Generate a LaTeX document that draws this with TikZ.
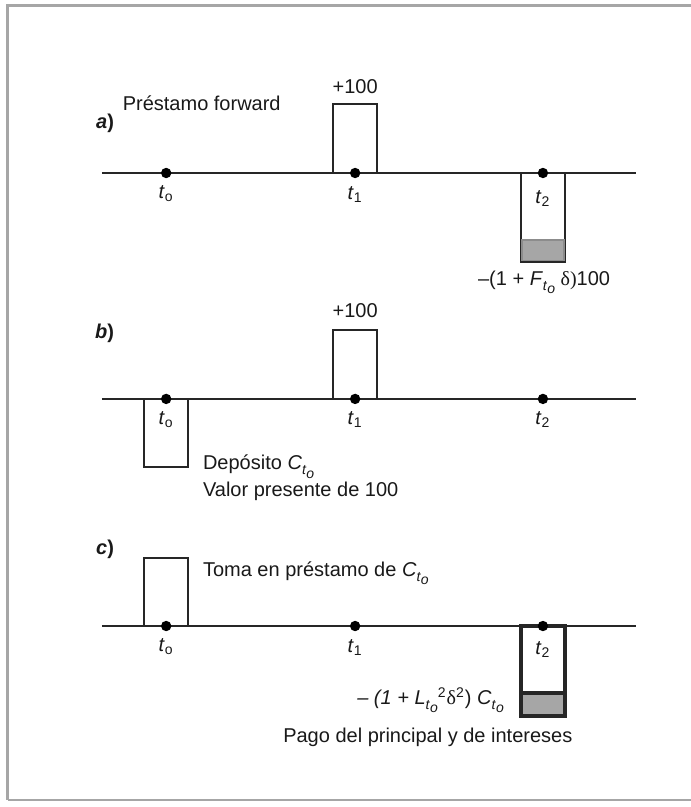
\documentclass[tikz,border=0pt]{standalone}
\usepackage{fontspec}
\setmainfont{Liberation Sans}
\newfontfamily\greekup{Liberation Serif}
\newcommand{\tlab}[1]{\textit{t}\textsubscript{#1}}
\newcommand{\tosub}{\raisebox{-0.45ex}{\scriptsize\textit{t}\raisebox{-0.45ex}{\scriptsize\textit{o}}}}
\newcommand{\cto}{\textit{C}\tosub}
\begin{document}
\begin{tikzpicture}[line width=1pt,color=black!85,
  every node/.style={inner sep=0pt,text=black!90},
  dot/.style={circle,fill=black,minimum size=5.2pt},
  paybar/.style={fill=black!35,draw=black!45}]
\useasboundingbox (0,0) rectangle (12.14,14.18);
\draw[black!35,line width=1.5pt] (0.14,0.12)--(0.14,14.09)--(12.14,14.09);
\draw[black!35,line width=0.75pt] (0.14,0.12)--(12.14,0.12);

% a) forward loan
\begin{scope}[yshift=11.14cm]
\draw (1.79,0)--(11.18,0);
\draw (5.85,0) rectangle (6.63,1.21);
\draw (9.15,0) rectangle (9.93,-1.56);
\draw[paybar] (9.17,-1.18) rectangle (9.91,-1.54);
\draw (9.15,-1.56)--(9.93,-1.56);
\node[dot] (a0) at (2.92,0) {};
\node[dot] (a1) at (6.24,0) {};
\node[dot] (a2) at (9.54,0) {};
\node[anchor=east] (taga) at (2.02,0.88) {\textbf{\textit{a})}};
\node[anchor=west] (fwd) at (2.14,1.23) {Préstamo forward};
\node (plusa) at (6.24,1.51) {+100};
\node (la0) at (2.92,-0.37) {\tlab{o}};
\node (la1) at (6.24,-0.37) {\tlab{1}};
\node (la2) at (9.54,-0.44) {\tlab{2}};
\node (paya) at (9.56,-1.92) {–(1 + \textit{F}\tosub\ {\greekup δ)}100};
\end{scope}

% b) deposit
\begin{scope}[yshift=7.17cm]
\draw (1.79,0)--(11.18,0);
\draw (5.85,0) rectangle (6.63,1.21);
\draw (2.53,0) rectangle (3.31,-1.19);
\node[dot] (b0) at (2.92,0) {};
\node[dot] (b1) at (6.24,0) {};
\node[dot] (b2) at (9.54,0) {};
\node[anchor=east] (tagb) at (2.02,1.16) {\textbf{\textit{b})}};
\node (plusb) at (6.24,1.55) {+100};
\node (lb0) at (2.92,-0.37) {\tlab{o}};
\node (lb1) at (6.24,-0.37) {\tlab{1}};
\node (lb2) at (9.54,-0.37) {\tlab{2}};
\node[anchor=west] (dep) at (3.55,-1.19) {Depósito \cto};
\node[anchor=west] (pv) at (3.55,-1.63) {Valor presente de 100};
\end{scope}

% c) borrowing
\begin{scope}[yshift=3.18cm]
\draw (1.79,0)--(11.18,0);
\draw (2.53,0) rectangle (3.31,1.19);
\draw[paybar,draw=none] (9.15,-1.18) rectangle (9.93,-1.58);
\draw[line width=2pt] (9.15,0) rectangle (9.93,-1.58);
\draw[line width=2pt] (9.15,-1.18)--(9.93,-1.18);
\node[dot] (c0) at (2.92,0) {};
\node[dot] (c1) at (6.24,0) {};
\node[dot] (c2) at (9.54,0) {};
\node[anchor=east] (tagc) at (2.02,1.35) {\textbf{\textit{c})}};
\node[anchor=west] (borrow) at (3.55,0.93) {Toma en préstamo de \cto};
\node (lc0) at (2.92,-0.37) {\tlab{o}};
\node (lc1) at (6.24,-0.37) {\tlab{1}};
\node (lc2) at (9.54,-0.42) {\tlab{2}};
\node[anchor=east] (payc) at (8.87,-1.30) {\textit{– (1 + L}\tosub\textsuperscript{2}{\greekup δ}\textsuperscript{2}) \cto};
\node[anchor=west] (pago) at (4.96,-1.95) {Pago del principal y de intereses};
\end{scope}
\end{tikzpicture}
\end{document}
